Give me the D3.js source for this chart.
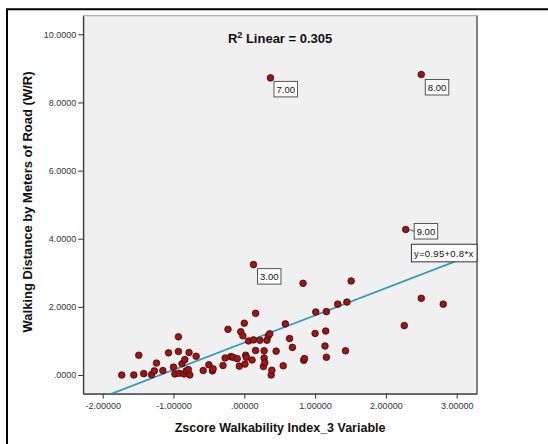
<!DOCTYPE html>
<html>
<head>
<meta charset="utf-8">
<script src="https://cdn.jsdelivr.net/npm/d3@7"></script>
<style>
  body { margin: 0; background: #fff; }
  svg { display: block; font-family: Arial, "Liberation Sans", sans-serif; }
</style>
</head>
<body>
<script>
// tick values and their SPSS-style labels
var xTicks = [-2, -1, 0, 1, 2, 3];
var xTickLabels = ["-2.00000", "-1.00000", ".00000", "1.00000", "2.00000", "3.00000"];
var yTicks = [0, 2, 4, 6, 8, 10];
var yTickLabels = [".0000", "2.0000", "4.0000", "6.0000", "8.0000", "10.0000"];

// unlabelled cases: zscore walkability (x) and walking distance W/R (y)
var zscore = [-1.73, -1.56, -1.49, -1.42, -1.31, -1.27, -1.24, -1.15, -1.07, -1.00,
  -0.98, -0.93, -0.93, -0.92, -0.88, -0.85, -0.84, -0.82, -0.79, -0.78,
  -0.77, -0.68, -0.58, -0.50, -0.45, -0.44, -0.30, -0.27, -0.23, -0.19,
  -0.16, -0.10, -0.07, -0.05, -0.02, 0.00, 0.01, 0.02, 0.03, 0.06,
  0.11, 0.13, 0.16, 0.16, 0.22, 0.27, 0.28, 0.28, 0.29, 0.32,
  0.34, 0.36, 0.38, 0.39, 0.45, 0.55, 0.58, 0.64, 0.68, 0.83,
  0.84, 0.85, 1.00, 1.01, 1.14, 1.15, 1.16, 1.16, 1.32, 1.43,
  1.45, 1.51, 2.26, 2.50, 2.81];
var walkDist = [0.00, 0.00, 0.58, 0.04, 0.01, 0.12, 0.35, 0.13, 0.65, 0.23,
  0.03, 1.12, 0.69, 0.05, 0.33, 0.03, 0.45, 0.12, 0.16, 0.66,
  0.00, 0.55, 0.13, 0.30, 0.12, 0.18, 0.28, 0.50, 1.34, 0.54,
  0.52, 0.48, 0.26, 1.27, 1.15, 1.52, 0.32, 0.58, 0.52, 1.00,
  0.44, 1.03, 1.81, 0.72, 1.02, 0.25, 0.71, 0.50, 0.36, 1.02,
  1.15, 1.21, 0.00, 0.14, 0.70, 0.27, 1.50, 1.07, 0.81, 2.69,
  0.43, 0.48, 1.22, 1.85, 0.85, 1.29, 1.86, 0.52, 2.08, 0.71,
  2.14, 2.76, 1.45, 2.25, 2.08];

// labelled cases
var caseNames = ["3.00", "7.00", "8.00", "9.00"];
var caseX = [0.13, 0.37, 2.50, 2.28];
var caseY = [3.24, 8.72, 8.82, 4.27];

// linear fit
var fitIntercept = 0.95;
var fitSlope = 0.8;
var fitR2 = 0.305;
var fitText = "y=0.95+0.8*x";

var width = 548, height = 444;
var plot = { left: 83.2, right: 477, top: 15.7, bottom: 393.7 };

var x = d3.scaleLinear().domain([-2.275, 3.287]).range([plot.left, plot.right]);
var y = d3.scaleLinear().domain([-0.549, 10.546]).range([plot.bottom, plot.top]);

var svg = d3.select("body").append("svg")
  .attr("width", width)
  .attr("height", height);

// outer frame of the output item
svg.append("path")
  .attr("d", "M7,450V9.3H560")
  .attr("fill", "none")
  .attr("stroke", "#000")
  .attr("stroke-width", 2);

svg.append("clipPath").attr("id", "clip")
  .append("rect")
  .attr("x", plot.left).attr("y", plot.top)
  .attr("width", plot.right - plot.left).attr("height", plot.bottom - plot.top);

// plot background
svg.append("rect")
  .attr("x", plot.left).attr("y", plot.top)
  .attr("width", plot.right - plot.left).attr("height", plot.bottom - plot.top)
  .attr("fill", "#f0f0f0")
  .attr("stroke", "#a0a0a0")
  .attr("stroke-width", 1);
svg.append("line")
  .attr("x1", plot.right).attr("x2", plot.right)
  .attr("y1", plot.top).attr("y2", plot.bottom)
  .attr("stroke", "#808080").attr("stroke-width", 2);

// axes
var xAxis = d3.axisBottom(x)
  .tickValues(xTicks)
  .tickFormat((d, i) => xTickLabels[i])
  .tickSize(5).tickSizeOuter(0).tickPadding(4);
var yAxis = d3.axisLeft(y)
  .tickValues(yTicks)
  .tickFormat((d, i) => yTickLabels[i])
  .tickSize(5).tickSizeOuter(0).tickPadding(2);

var gx = svg.append("g").attr("transform", "translate(0," + plot.bottom + ")").call(xAxis);
var gy = svg.append("g").attr("transform", "translate(" + plot.left + ",0)").call(yAxis);
[gx, gy].forEach(function(g) {
  g.select(".domain").attr("stroke", "#333").attr("stroke-width", 1.2);
  g.selectAll(".tick line").attr("stroke", "#333");
  g.selectAll(".tick text")
    .attr("fill", "#333")
    .style("font-size", "9px")
    .style("font-family", "Arial, 'Liberation Sans', sans-serif");
});

// fit line
svg.append("line")
  .attr("clip-path", "url(#clip)")
  .attr("x1", x(-2.275)).attr("y1", y(fitIntercept + fitSlope * -2.275))
  .attr("x2", x(3.287)).attr("y2", y(fitIntercept + fitSlope * 3.287))
  .attr("stroke", "#2f9ac0")
  .attr("stroke-width", 1.8);

// points
var points = zscore.map((d, i) => ({ x: d, y: walkDist[i] }));
caseX.forEach(function(d, i) { points.push({ x: d, y: caseY[i] }); });

svg.append("g")
  .selectAll("circle")
  .data(points)
  .enter().append("circle")
    .attr("cx", d => x(d.x))
    .attr("cy", d => y(d.y))
    .attr("r", 3.3)
    .attr("fill", "#a01414")
    .attr("stroke", "#3a0808")
    .attr("stroke-width", 0.8);

// case labels (box offsets from the point)
var labelOffsets = [[4, 4], [3.5, 3.5], [4, 5], [8.5, -6]];
var boxH = 15.5;
var labels = svg.append("g");
caseNames.forEach(function(name, i) {
  var px = x(caseX[i]), py = y(caseY[i]);
  var bx = px + labelOffsets[i][0], by = py + labelOffsets[i][1];
  if (labelOffsets[i][0] > 6) {
    labels.append("line")
      .attr("x1", px + 3).attr("y1", py)
      .attr("x2", bx).attr("y2", by + boxH / 2)
      .attr("stroke", "#333").attr("stroke-width", 0.8);
  }
  var t = labels.append("text")
    .attr("x", bx + 2.5).attr("y", by + 11.3)
    .style("font-size", "9.5px")
    .attr("fill", "#111")
    .text(name);
  var w = t.node().getComputedTextLength() + 5;
  labels.insert("rect", "text")
    .attr("x", bx).attr("y", by)
    .attr("width", w).attr("height", boxH)
    .attr("fill", "#fff")
    .attr("stroke", "#555")
    .attr("stroke-width", 1);
});

// equation box, centred on the fit line at the right edge
var eqY = y(fitIntercept + fitSlope * x.domain()[1]);
var eqG = svg.append("g");
var eqT = eqG.append("text")
  .attr("y", eqY + 3.5)
  .style("font-size", "9.5px")
  .style("letter-spacing", "0.3px")
  .attr("fill", "#111")
  .text(fitText);
var eqW = eqT.node().getComputedTextLength() + 6;
eqT.attr("x", plot.right - eqW + 2.5);
eqG.insert("rect", "text")
  .attr("x", plot.right - eqW).attr("y", eqY - 8.8)
  .attr("width", eqW).attr("height", 17.6)
  .attr("fill", "#fff")
  .attr("stroke", "#333")
  .attr("stroke-width", 1);

// R squared annotation
var r2 = svg.append("text")
  .attr("x", (plot.left + plot.right) / 2)
  .attr("y", 42.7)
  .attr("text-anchor", "middle")
  .style("font-size", "13px")
  .style("font-weight", "bold")
  .attr("fill", "#111");
r2.append("tspan").text("R");
r2.append("tspan").attr("dy", -5).style("font-size", "9px").text("2");
r2.append("tspan").attr("dy", 5).text(" Linear = " + fitR2);

// axis titles
svg.append("text")
  .attr("x", (plot.left + plot.right) / 2)
  .attr("y", 431.5)
  .attr("text-anchor", "middle")
  .style("font-size", "12.5px")
  .style("font-weight", "bold")
  .attr("fill", "#111")
  .text("Zscore Walkability Index_3 Variable");

svg.append("text")
  .attr("transform", "translate(32.3," + 202 + ") rotate(-90)")
  .attr("text-anchor", "middle")
  .style("font-size", "13px")
  .style("font-weight", "bold")
  .attr("fill", "#111")
  .text("Walking Distance by Meters of Road (W/R)");
</script>
</body>
</html>
